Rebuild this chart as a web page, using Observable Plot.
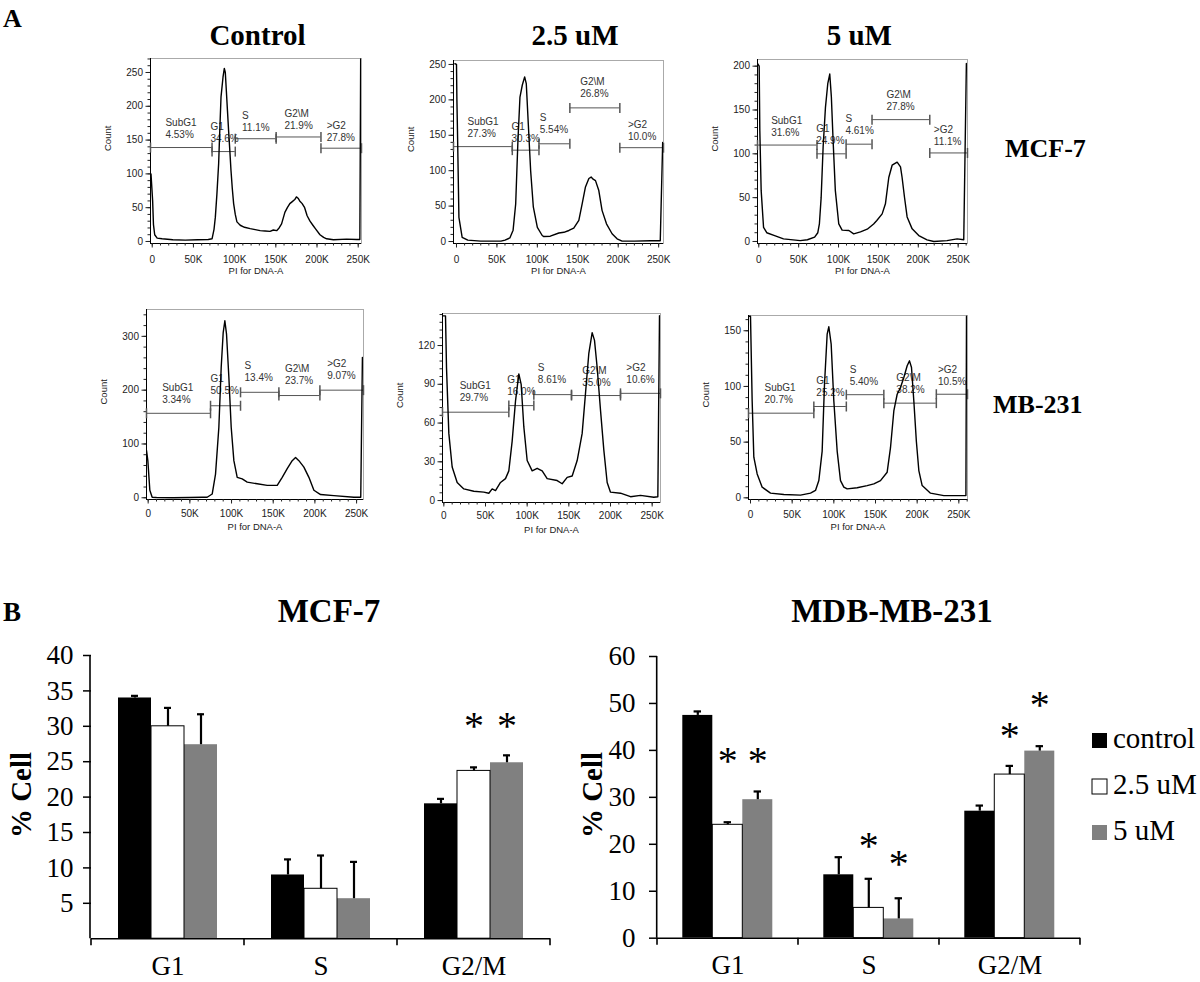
<!DOCTYPE html>
<html>
<head>
<meta charset="utf-8">
<script src="https://cdn.jsdelivr.net/npm/d3@7"></script>
<script src="https://cdn.jsdelivr.net/npm/@observablehq/plot@0.6"></script>
<style>
  body { margin: 0; background: #fff; }
  #root { position: relative; width: 1200px; height: 982px; overflow: hidden; background: #fff; }
</style>
</head>
<body>
<div id="root"></div>
<script>
// ---------------- DATA ----------------
const panelLetters = ["A", "B"];
const conditions = ["Control", "2.5 uM", "5 uM"];
const cellLines = ["MCF-7", "MB-231"];
const barTitles = ["MCF-7", "MDB-MB-231"];
const gateNames = ["SubG1", "G1", "S", "G2\\M", ">G2"];
const xMajorTicks = [0, 50, 100, 150, 200, 250];            // PI for DNA-A (K)
const yTicksMcf7Control = [0, 50, 100, 150, 200, 250];
const yTicksMcf7Low = [0, 50, 100, 150, 200, 250];
const yTicksMcf7High = [0, 50, 100, 150, 200];
const yTicksMb231Control = [0, 100, 200, 300];
const yTicksMb231Low = [0, 30, 60, 90, 120];
const yTicksMb231High = [0, 50, 100, 150];

// histogram curves: [PI (K), count]
const mcf7Control = [[-1.5,100],[0.5,60],[1.5,25],[3,10],[6,5],[12,4],[25,2.5],[40,2],[55,2.5],[68,3],[72.6,4],[75,18],[76.6,36],[78.5,70],[80.6,115],[82,165],[83.5,214],[85.9,243],[87.5,256],[88.7,250],[89.9,224],[91.3,194],[92.7,164],[94.2,134],[95.6,105],[97.2,78],[98.8,56],[100.8,40],[102.8,29],[106.8,24],[112,21],[118.9,19],[125,17.5],[131,16],[137,15.5],[143,15],[147,17],[151,16],[154,20],[157,26],[161,43],[164,50],[167,56],[170,59],[173,62],[175,66],[177,64],[179,60],[182,56],[185,50],[188,38],[191.5,30],[195,24],[198,19],[203.6,10],[208,6],[211.7,4],[220,2.5],[236,3.5],[248,3],[252,3],[253,270]];
const mcf7Low = [[-2,251],[0,250],[0.5,200],[1.2,157],[3,34],[7,6],[14,2],[30,0.5],[55,0.5],[60,2],[66,5],[70,16],[73.2,53],[76,143],[78.5,204],[81.4,221],[84.3,232.5],[86.3,223],[88.8,166],[91.7,100],[95,49],[100,20],[106,8.5],[108,7],[116,7.5],[126.6,12],[132.8,13],[139,15.6],[145,19],[151.3,30],[155.4,53],[159.5,77],[163.7,89],[166.5,91],[169,88],[171.9,86],[176,72],[180,44],[185.5,25],[192.4,11],[198.6,3.8],[204.8,0.5],[220,0.5],[240,1],[252,1],[255,140]];
const mcf7High = [[-1.5,203],[0.5,200],[1.3,127],[3,58],[6,16],[10,10],[19,7],[31,3],[52,1],[61,2],[70,5],[74,10],[76,20],[78.2,50],[80.7,108],[83.6,153],[86.5,180],[89,191],[91,165],[93.2,115],[96,58],[100.3,20],[104.5,13],[113,12.5],[119,8.7],[127.5,11],[136,14],[144,20],[148,24],[154.7,31.5],[158.8,43],[163,73],[167.2,87],[173.5,90.5],[177.7,85],[179.7,73],[182.7,50.5],[186,28],[192.3,14.4],[200.6,6.8],[211,1.9],[219.5,0],[236,1],[248.7,3],[257,2],[260.3,203]];
const mb231Control = [[-2,88],[-0.4,69],[2,14],[4.8,1],[10,0.5],[30,0],[50,0.5],[65,1],[70.8,1],[76.8,7],[80.8,44],[84.8,131],[87.6,242],[90,307],[92,329],[94,304],[96.8,224],[99.6,131],[102.8,69],[106.8,38],[112.8,35],[118.8,29],[130.8,26],[142.8,23],[154.8,23],[160.8,38],[166.8,54],[172.8,69],[176.8,75],[180.8,69],[186.8,57],[192.8,38],[198.8,14],[206.8,6],[222.8,4],[246.8,1],[255,1],[257,261]];
const mb231Low = [[-1.2,143],[2,143],[3.2,103],[6,52],[10,26],[16,14],[24,9],[36,7.2],[48,6.5],[54,5.7],[58,9],[62,7.7],[68,14],[74,17],[78,23],[82,46],[86,77],[90,98],[92.8,90],[96,57],[100,31],[106,23],[112,25],[118,23],[124,17],[136,15.5],[142,13],[148,18],[154,19],[160,31],[166,52],[170,83],[174,114],[178,130],[180.8,124],[184,103],[188,70],[192,39],[196,14],[200,6.5],[212,5.7],[224,3],[236,4],[252,2.6],[256.8,3],[258.8,143]];
const mb231High = [[-2,163],[0,163],[2,87],[4,36.5],[8,21.5],[14,9.6],[24,4.2],[40,3],[60,2.4],[72,4.2],[78,6.6],[82,15.5],[86,42],[88.8,102],[92,147],[94,153.6],[96.8,138],[100,87],[104,42],[108,15.5],[112,9.6],[116,8],[128,9],[140,11],[148,12.5],[156,15.5],[164,23],[168,45],[172,78],[176,93],[180,99],[184,108],[188,118.6],[190.8,123],[193.2,117],[196,87],[199,51],[202,24.5],[206,11],[216,4.2],[232,2],[252,2],[258.5,2],[259.2,163]];

// gates: [start K, end K, count level, label K, label count, percent]
const mcf7ControlGates = [[-2.1,72.6,139,16,178,"4.53%"],[72.6,100.8,133,70.6,172,"34.6%"],[100.8,150.4,152,109,189,"11.1%"],[150.4,204.8,154.6,160.5,192,"21.9%"],[204.8,254,138,211.7,174,"27.8%"]];
const mcf7LowGates = [[-3.7,69,134,13.6,171,"27.3%"],[69,102,129,68,165,"30.3%"],[102,140.2,138,103,177,"5.54%"],[140.2,202,188.7,153,228,"26.8%"],[202,256,132.5,212,168,"10.0%"]];
const mcf7HighGates = [[-1.6,73,110,15.5,140,"31.6%"],[73,109.5,100,72,131,"24.9%"],[109.5,142,111,108.7,142,"4.61%"],[142,214.4,139,160,169,"27.8%"],[214.4,261.7,101,219.5,130,"11.1%"]];
const mb231ControlGates = [[-2,74.8,157,16.8,208,"3.34%"],[74.8,110.8,171,74.8,224,"50.5%"],[110.8,156.8,196,115.6,249,"13.4%"],[156.8,206,190,164,242.5,"23.7%"],[206,258.3,200,214.8,252,"9.07%"]];
const mb231LowGates = [[-1.6,78,68.4,19,90,"29.7%"],[78,108,73.5,76,95,"16.0%"],[108,153.2,82,112.8,104.5,"8.61%"],[153.2,212,81.3,166,102,"35.0%"],[212,260,83,219,104.5,"10.6%"]];
const mb231HighGates = [[-2.4,76,76,16.8,100.7,"20.7%"],[76,115,82,79,106.7,"25.2%"],[115,160,92.6,119,117,"5.40%"],[160,223,85,175,109.7,"38.2%"],[223,260.4,93,225,117,"10.5%"]];

// bar charts
const phases = ["G1", "S", "G2/M"];
const series = ["control", "2.5 uM", "5 uM"];
const seriesColors = ["#000000", "#ffffff", "#808080"];
const mcf7Means = [[34.0, 30.0, 27.4], [9.0, 7.05, 5.65], [19.05, 23.7, 24.85]];
const mcf7Errors = [[0.3, 2.6, 4.3], [2.2, 4.7, 5.2], [0.7, 0.5, 1.05]];
const mcf7Stars = [["G2/M", "2.5 uM", 31.1], ["G2/M", "5 uM", 31.1]];
const mb231Means = [[47.45, 24.15, 29.5], [13.5, 6.45, 4.1], [27.05, 34.85, 39.85]];
const mb231Errors = [[0.85, 0.55, 1.75], [3.75, 6.2, 4.4], [1.2, 1.85, 1.05]];
const mb231Stars = [["G1", "2.5 uM", 39.3], ["G1", "5 uM", 39.3], ["S", "2.5 uM", 21.2], ["S", "5 uM", 17.4], ["G2/M", "2.5 uM", 44.8], ["G2/M", "5 uM", 51.35]];
const mcf7BarTicks = [5, 10, 15, 20, 25, 30, 35, 40];
const mb231BarTicks = [0, 10, 20, 30, 40, 50, 60];

// ---------------- LAYOUT ----------------
const SERIF = "'Liberation Serif', 'Times New Roman', serif";
const SANS = "'Liberation Sans', Arial, sans-serif";
const root = document.getElementById("root");
function place(node, left, top) {
  node.style.position = "absolute";
  node.style.left = left + "px";
  node.style.top = top + "px";
  root.appendChild(node);
}
const vbar = {draw(ctx, size) { const r = Math.sqrt(size / Math.PI); ctx.moveTo(0, -r); ctx.lineTo(0, r); }};

const panels = [
  {curve: mcf7Control, gates: mcf7ControlGates, frame: [150, 361, 58, 243], xDomain: [-2.1, 254], yDomain: [-3, 270.7], yMajor: yTicksMcf7Control, yMinorStep: 10, xPad: 8},
  {curve: mcf7Low, gates: mcf7LowGates, frame: [453, 663, 60, 243], xDomain: [-3.7, 256], yDomain: [-2.8, 255.6], yMajor: yTicksMcf7Low, yMinorStep: 10, xPad: 8},
  {curve: mcf7High, gates: mcf7HighGates, frame: [757, 967, 59, 243], xDomain: [-1.6, 261.7], yDomain: [-2.3, 207.6], yMajor: yTicksMcf7High, yMinorStep: 10, xPad: 8},
  {curve: mb231Control, gates: mb231ControlGates, frame: [146, 363, 309, 499], xDomain: [-2, 258.3], yDomain: [-3.2, 349.9], yMajor: yTicksMb231Control, yMinorStep: 20, xPad: 6},
  {curve: mb231Low, gates: mb231LowGates, frame: [442, 660, 313, 502], xDomain: [-1.6, 260], yDomain: [-1.5, 144.8], yMajor: yTicksMb231Low, yMinorStep: 6, xPad: 5},
  {curve: mb231High, gates: mb231HighGates, frame: [748, 967, 315, 499], xDomain: [-2.4, 260.4], yDomain: [-1.5, 163.7], yMajor: yTicksMb231High, yMinorStep: 10, xPad: 7}
];

function histogram(p) {
  const [fl, fr, ft, fb] = p.frame;
  const mL = 55, mR = 8, mT = 8, mB = 38;
  const pts = p.curve.map(([x, y]) => ({x, y}));
  const gates = p.gates.map(([x1, x2, y, lx, ly, pct], i) => ({name: gateNames[i], x1, x2, y, lx, ly, pct}));
  const ends = gates.flatMap(g => [{x: g.x1, y: g.y}, {x: g.x2, y: g.y}]);
  const yMinor = d3.range(0, p.yDomain[1], p.yMinorStep);
  const xMinor = d3.range(0, p.xDomain[1], 10);
  const chart = Plot.plot({
    width: fr - fl + mL + mR, height: fb - ft + mT + mB,
    marginLeft: mL, marginRight: mR, marginTop: mT, marginBottom: mB,
    style: {fontFamily: SANS, fontSize: "10px", color: "#222", background: "transparent", overflow: "visible"},
    x: {domain: p.xDomain, axis: null},
    y: {domain: p.yDomain, axis: null},
    marks: [
      Plot.frame({stroke: "#aaa"}),
      Plot.ruleX([p.xDomain[0]], {stroke: "#000"}),
      Plot.ruleY([p.yDomain[0]], {stroke: "#000"}),
      Plot.axisY({ticks: yMinor, tickSize: 2.5, tickFormat: () => "", label: null}),
      Plot.axisY({ticks: p.yMajor, tickSize: 4.5, tickPadding: 3, label: null, tickFormat: d => String(d), fontSize: 10}),
      Plot.axisX({ticks: xMinor, tickSize: 2.5, tickFormat: () => "", label: null}),
      Plot.axisX({ticks: xMajorTicks, tickSize: 4.5, tickPadding: p.xPad, label: null, fontSize: 10, tickFormat: d => d === 0 ? "0" : d + "K"}),
      Plot.ruleY(gates, {x1: "x1", x2: "x2", y: "y", stroke: "#555"}),
      Plot.dot(ends, {x: "x", y: "y", symbol: vbar, r: 5, stroke: "#555", fill: "none"}),
      Plot.text(gates, {x: "lx", y: "ly", text: d => d.name + "\n" + d.pct, textAnchor: "start", lineAnchor: "top", dy: -3.5, lineHeight: 1.2, fontSize: 10, fill: "#333"}),
      Plot.line(pts, {x: "x", y: "y", stroke: "#000", strokeWidth: 1.4, clip: true}),
      Plot.text(["Count"], {text: d => d, frameAnchor: "left", rotate: -90, dx: -43, fontSize: 9.5, fill: "#222"}),
      Plot.text(["PI for DNA-A"], {text: d => d, frameAnchor: "bottom", dy: 30, fontSize: 9.5, fill: "#222"})
    ]
  });
  place(chart, fl - mL, ft - mT);
}
panels.forEach(histogram);

function barChart(c) {
  const data = phases.flatMap((ph, i) => series.map((s, j) => ({phase: ph, series: s, value: c.means[i][j], err: c.errors[i][j]})));
  const stars = c.stars.map(([phase, s, y]) => ({phase, series: s, y}));
  const chart = Plot.plot({
    width: c.width, height: c.height,
    marginLeft: c.mL, marginRight: c.mR, marginTop: c.mT, marginBottom: c.mB,
    style: {fontFamily: SERIF, background: "transparent", color: "#000", overflow: "visible"},
    fx: {domain: phases, padding: 0, axis: null},
    x: {domain: series, paddingInner: 0, paddingOuter: c.pad, axis: null},
    y: {domain: c.yDomain, axis: null},
    color: {domain: series, range: seriesColors},
    marks: [
      Plot.barY(data, {fx: "phase", x: "series", y: "value", fill: "series"}),
      Plot.barY(data.filter(d => d.series === series[1]), {fx: "phase", x: "series", y: "value", fill: "none", stroke: "#000", strokeWidth: 1}),
      Plot.ruleX(data, {fx: "phase", x: "series", y1: "value", y2: d => d.value + d.err, stroke: "#000", strokeWidth: 2.2}),
      Plot.tickY(data, {fx: "phase", x: "series", y: d => d.value + d.err, stroke: "#000", strokeWidth: 2.2, insetLeft: c.cap, insetRight: c.cap}),
      Plot.text(stars, {fx: "phase", x: "series", y: "y", text: () => "*", fontSize: 40, dy: 8, fill: "#000"}),
      Plot.ruleY([0], {stroke: "#000", strokeWidth: 1.6}),
      Plot.axisY({ticks: c.yTicks, tickSize: 8, tickPadding: c.tickPad, fontSize: 27, label: null, strokeWidth: 1.5, tickFormat: d => String(d)}),
      Plot.axisFx({anchor: "bottom", tickSize: 0, tickPadding: 17, fontSize: 27, label: null})
    ]
  });
  // axis line and category boundary ticks from Plot's own scales
  const fxS = chart.scale("fx"), yS = chart.scale("y");
  const yApply = yS.apply ? v => yS.apply(v) : d3.scaleLinear(yS.domain, yS.range);
  let fxApply, bw;
  if (fxS.apply) { fxApply = v => fxS.apply(v); bw = fxS.bandwidth; }
  else { const b = d3.scaleBand(fxS.domain, fxS.range).padding(0); fxApply = b; bw = b.bandwidth(); }
  const y0 = yApply(0);
  const g = d3.select(chart).append("g").attr("stroke", "#000").attr("stroke-width", 1.6);
  g.append("line").attr("x1", c.mL).attr("x2", c.mL).attr("y1", y0).attr("y2", yApply(c.yDomain[1]));
  const bounds = phases.map(p => fxApply(p)).concat([fxApply(phases[phases.length - 1]) + bw]);
  bounds.forEach(b => g.append("line").attr("x1", b).attr("x2", b).attr("y1", y0).attr("y2", y0 + 7));
  place(chart, c.left, c.top);
}

barChart({means: mcf7Means, errors: mcf7Errors, stars: mcf7Stars, yDomain: [0, 40], yTicks: mcf7BarTicks,
  left: 0, top: 640, width: 560, height: 342, mL: 90, mR: 10, mT: 15, mB: 43.8, pad: 0.76, cap: 13, tickPad: 10});
barChart({means: mb231Means, errors: mb231Errors, stars: mb231Stars, yDomain: [0, 60], yTicks: mb231BarTicks,
  left: 570, top: 640, width: 520.7, mL: 86.7, mR: 10, mT: 16, mB: 44.3, height: 342, pad: 0.8, cap: 11.3, tickPad: 14});

// ---------------- TEXT OVERLAY ----------------
const ov = d3.create("svg").attr("width", 1200).attr("height", 982)
  .style("pointer-events", "none").style("font-family", SERIF);
function txt(s, x, y, size, opts = {}) {
  return ov.append("text").attr("x", x).attr("y", y).attr("font-size", size)
    .attr("font-weight", opts.bold === false ? "normal" : "bold")
    .attr("text-anchor", opts.anchor || "start").attr("fill", "#000").text(s);
}
txt(panelLetters[0], 3, 27, 26);
txt(panelLetters[1], 3, 621, 27);
[257.5, 575, 859.3].forEach((x, i) => txt(conditions[i], x, 45, 29, {anchor: "middle"}));
txt(cellLines[0], 1005, 157, 26);
txt(cellLines[1], 993, 413, 26);
txt(barTitles[0], 329, 622, 33, {anchor: "middle"});
txt(barTitles[1], 892, 622, 33, {anchor: "middle"});
[[21, 795], [592, 795]].forEach(([x, y]) => {
  ov.append("text").attr("transform", `translate(${x},${y}) rotate(-90)`)
    .attr("text-anchor", "middle").attr("dominant-baseline", "central")
    .attr("font-size", 29).attr("font-weight", "bold").attr("fill", "#000").text("% Cell");
});
// legend
series.forEach((s, i) => {
  const top = 733 + i * 46;
  ov.append("rect").attr("x", 1092).attr("y", top).attr("width", 15).attr("height", 15)
    .attr("fill", seriesColors[i]).attr("stroke", i === 1 ? "#000" : "none").attr("stroke-width", 1);
  txt(s, 1113, top + 14.5, 29, {bold: false});
});
place(ov.node(), 0, 0);
</script>
</body>
</html>
